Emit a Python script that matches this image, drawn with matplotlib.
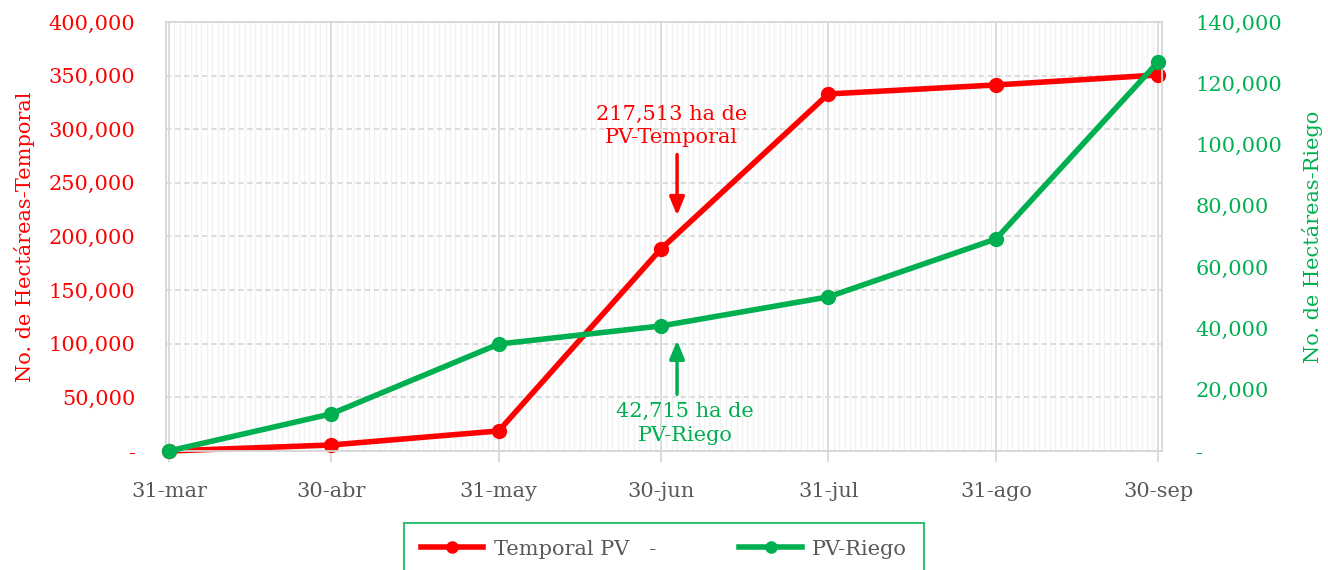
import numpy as np
import pandas as pd
import matplotlib
matplotlib.use("Agg")
import matplotlib.pyplot as plt
import matplotlib.dates as mdates
from matplotlib.ticker import FuncFormatter, MultipleLocator

plt.rcParams['font.family'] = ['DejaVu Serif']

fechas = ["2023-03-31", "2023-04-30", "2023-05-31", "2023-06-30",
          "2023-07-31", "2023-08-31", "2023-09-30"]
etiquetas_x = ["31-mar", "30-abr", "31-may", "30-jun", "31-jul", "31-ago", "30-sep"]
temporal = [0, 5600, 18700, 188300, 332900, 341300, 350600]
riego = [0, 12100, 34900, 40800, 50300, 69200, 127000]

rojo = "#FF0000"
verde = "#00B050"
gris = "#595959"
fs = 15

x = pd.to_datetime(fechas)

fig = plt.figure(figsize=(13.28, 5.70), dpi=100)
ax = fig.add_axes([166/1328, 1-451/570, (1162-166)/1328, (451-22)/570])
ax2 = ax.twinx()

def miles(v, pos):
    if v == 0:
        return "-"
    return f"{v:,.0f}"

l1, = ax.plot(x, temporal, color=rojo, lw=4, marker="o", ms=10, zorder=3,
              label="Temporal PV   -", clip_on=False)
l2, = ax2.plot(x, riego, color=verde, lw=4, marker="o", ms=10, zorder=3,
               label="PV-Riego", clip_on=False)

ax.set_xlim(x[0] - pd.Timedelta(hours=13), x[-1] + pd.Timedelta(hours=17))
ax.set_ylim(0, 400000)
ax2.set_ylim(0, 140000)
ax.yaxis.set_major_locator(MultipleLocator(50000))
ax2.yaxis.set_major_locator(MultipleLocator(20000))
ax.yaxis.set_major_formatter(FuncFormatter(miles))
ax2.yaxis.set_major_formatter(FuncFormatter(miles))

ax.set_xticks(x)
ax.set_xticklabels(etiquetas_x)
ax.xaxis.set_minor_locator(mdates.DayLocator())

ax.grid(which="minor", axis="x", color="#F2F2F2", lw=1)
ax.grid(which="major", axis="x", color="#D9D9D9", lw=1.3)
ax.grid(which="major", axis="y", color="#D9D9D9", lw=1.3, ls=(0, (3, 2)))
ax.set_axisbelow(True)

for a in (ax, ax2):
    for s in a.spines.values():
        s.set_color("#D9D9D9")
        s.set_linewidth(1.3)

ax.tick_params(axis="x", which="major", colors="#D9D9D9", length=8, width=1.3,
               labelcolor=gris, labelsize=fs, pad=14)
ax.tick_params(axis="x", which="minor", length=0)
ax.tick_params(axis="y", length=0, labelcolor=rojo, labelsize=fs, pad=22)
ax2.tick_params(axis="y", length=0, labelcolor=verde, labelsize=fs, pad=24)

ax.set_ylabel("No. de Hectáreas-Temporal", color=rojo, fontsize=fs, labelpad=10)
ax2.set_ylabel("No. de Hectáreas-Riego", color=verde, fontsize=fs, labelpad=14)

# anotaciones
xa = x[3] + pd.Timedelta(days=3)
flecha = "-|>,head_width=0.45,head_length=1.1"
ax.annotate("", xy=(xa, 217000), xytext=(xa, 279000),
            arrowprops=dict(arrowstyle=flecha, color=rojo, lw=2.5))
ax.text(x[3] + pd.Timedelta(days=2), 303000, "217,513 ha de\nPV-Temporal",
        color=rojo, fontsize=fs, ha="center", va="center", linespacing=1.3)
ax2.annotate("", xy=(xa, 37000), xytext=(xa, 17600),
             arrowprops=dict(arrowstyle=flecha, color=verde, lw=2.5))
ax2.text(x[3] + pd.Timedelta(days=4.5), 9000, "42,715 ha de\nPV-Riego",
         color=verde, fontsize=fs, ha="center", va="center", linespacing=1.3)

leg = fig.legend(handles=[l1, l2], loc="upper center", ncol=2,
                 bbox_to_anchor=(664/1328, 1-523/570), fontsize=fs,
                 frameon=True, fancybox=False, edgecolor=verde,
                 handlelength=3, columnspacing=4, borderpad=0.8,
                 handletextpad=0.5, borderaxespad=0, markerscale=0.8)
leg.get_frame().set_linewidth(1.5)
for t in leg.get_texts():
    t.set_color(gris)

fig.savefig("out.png", dpi=100)
